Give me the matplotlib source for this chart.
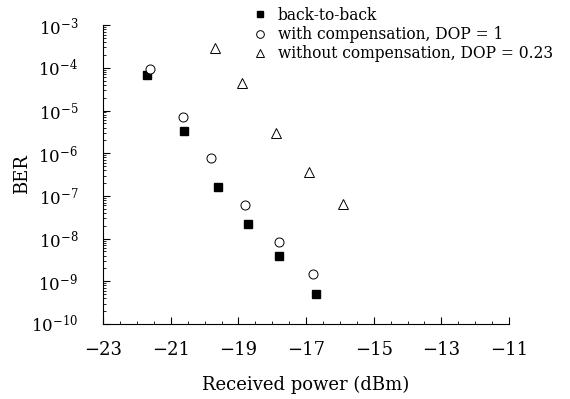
import numpy as np
import matplotlib.pyplot as plt
from matplotlib.ticker import LogLocator, MultipleLocator, FixedLocator, NullFormatter

plt.rcParams['font.family'] = 'DejaVu Serif'
plt.rcParams['mathtext.fontset'] = 'dejavuserif'

# back-to-back
p_b2b = [-21.70, -20.61, -19.60, -18.71, -17.80, -16.70]
ber_b2b = [6.7e-5, 3.3e-6, 1.6e-7, 2.2e-8, 4.0e-9, 5.0e-10]
# with compensation, DOP = 1
p_comp = [-21.61, -20.64, -19.81, -18.80, -17.80, -16.79]
ber_comp = [9.3e-5, 7.0e-6, 7.8e-7, 6.0e-8, 8.3e-9, 1.5e-9]
# without compensation, DOP = 0.23
p_nocomp = [-19.69, -18.89, -17.89, -16.91, -15.91]
ber_nocomp = [2.9e-4, 4.4e-5, 3.0e-6, 3.6e-7, 6.5e-8]

xticks = [-23, -21, -19, -17, -15, -13, -11]

fig = plt.figure(figsize=(5.7, 3.99), dpi=100)
ax = fig.add_axes([0.181, 0.188, 0.712, 0.749])

ax.plot(p_b2b, ber_b2b, 's', color='black', ms=5.5, ls='none', label='back-to-back')
ax.plot(p_comp, ber_comp, 'o', mfc='white', mec='black', mew=0.7, ms=6.5, ls='none',
        label='with compensation, DOP = 1')
ax.plot(p_nocomp, ber_nocomp, '^', mfc='white', mec='black', mew=0.7, ms=7, ls='none',
        label='without compensation, DOP = 0.23')

ax.set_yscale('log')
ax.set_xlim(-23, -11)
ax.set_ylim(1e-10, 1e-3)
ax.xaxis.set_major_locator(FixedLocator(xticks))
ax.set_xticklabels(['\u2212%d' % abs(v) for v in xticks])
ax.xaxis.set_minor_locator(MultipleLocator(0.5))
ax.yaxis.set_major_locator(LogLocator(base=10, numticks=20))
ax.yaxis.set_minor_locator(LogLocator(base=10, subs=np.arange(2, 10), numticks=20))
ax.yaxis.set_minor_formatter(NullFormatter())

for s in ['top', 'right']:
    ax.spines[s].set_visible(False)
ax.tick_params(which='both', direction='in')
ax.tick_params(axis='x', labelsize=13)
ax.tick_params(axis='y', labelsize=12)
ax.tick_params(which='major', length=5)
ax.tick_params(axis='x', which='major', pad=12)
ax.tick_params(axis='y', which='major', pad=18)
ax.tick_params(which='minor', length=2.5)

ax.set_xlabel('Received power (dBm)', fontsize=13, labelpad=12)
ax.set_ylabel('BER', fontsize=13, labelpad=0)

fig.legend(loc='upper left', bbox_to_anchor=(0.415, 1.018), frameon=False, fontsize=11.2,
           handletextpad=0.55, labelspacing=0.15, handlelength=1.2, markerscale=0.85)

fig.savefig('out.png', dpi=100)
